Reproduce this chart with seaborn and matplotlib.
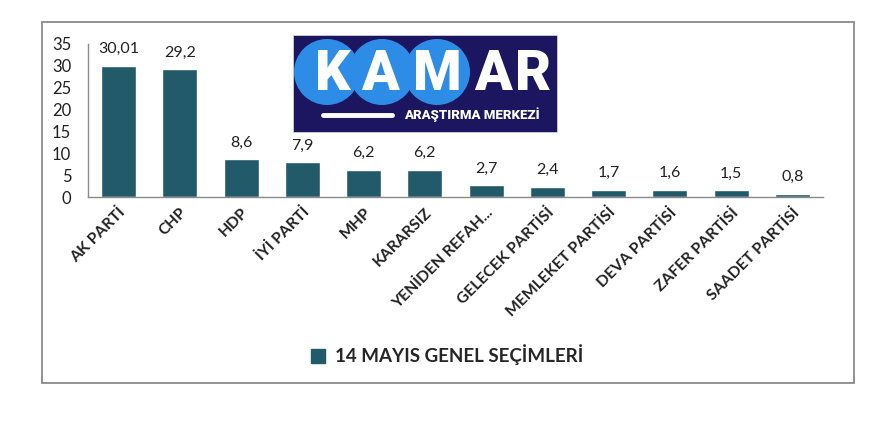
import matplotlib
matplotlib.use("Agg")
import matplotlib.pyplot as plt
import seaborn as sns
import pandas as pd
from matplotlib.patches import Rectangle, Ellipse, Patch

categories = ["AK PARTİ", "CHP", "HDP", "İYİ PARTİ", "MHP", "KARARSIZ",
              "YENİDEN REFAH...", "GELECEK PARTİSİ", "MEMLEKET PARTİSİ",
              "DEVA PARTİSİ", "ZAFER PARTİSİ", "SAADET PARTİSİ"]
values = [30.01, 29.2, 8.6, 7.9, 6.2, 6.2, 2.7, 2.4, 1.7, 1.6, 1.5, 0.8]
value_labels = ["30,01", "29,2", "8,6", "7,9", "6,2", "6,2", "2,7", "2,4",
                "1,7", "1,6", "1,5", "0,8"]
yticks = [0, 5, 10, 15, 20, 25, 30, 35]
series_name = "14 MAYIS GENEL SEÇİMLERİ"

sns.set_theme(style="white")
plt.rcParams['font.family'] = ['Lato', 'DejaVu Sans']

bar_color = "#225A69"
W, H = 877, 422
fig = plt.figure(figsize=(W / 100, H / 100), dpi=100)

# outer frame
fig.patches.append(Rectangle((42 / W, 1 - 383 / H), (854 - 42) / W, (383 - 22) / H,
                             transform=fig.transFigure, fill=False,
                             edgecolor="#8a8a8a", linewidth=1.3))

ax = fig.add_axes([88 / W, 1 - 197 / H, (823 - 88) / W, (197 - 44) / H])
df = pd.DataFrame({"party": categories, "value": values})
sns.barplot(data=df, x="party", y="value", color=bar_color, width=0.57,
            saturation=1, ax=ax)
ax.bar_label(ax.containers[0], labels=value_labels, padding=7,
             fontsize=11.5, color="#222222")
ax.set_ylim(0, 35)
ax.set_yticks(yticks)
ax.set_xlim(-0.5, len(categories) - 0.5)
ax.set_xlabel("")
ax.set_ylabel("")
for s in ["top", "right"]:
    ax.spines[s].set_visible(False)
for s in ["left", "bottom"]:
    ax.spines[s].set_color("#8a8a8a")
    ax.spines[s].set_linewidth(1.0)
ax.tick_params(axis="y", length=0, pad=12, labelsize=12, labelcolor="#222222")
ax.tick_params(axis="x", length=0, pad=6, labelsize=11.3, labelcolor="#222222")
for lab in ax.get_xticklabels():
    lab.set_rotation(45)
    lab.set_ha("right")
    lab.set_rotation_mode("anchor")
    lab.set_fontweight("bold")

# legend
leg = fig.legend(handles=[Patch(facecolor=bar_color, edgecolor=bar_color, label=series_name)],
                 loc="center", bbox_to_anchor=(447 / W, 1 - 355 / H), frameon=False,
                 prop={"weight": "bold", "size": 13.5}, handlelength=0.75,
                 handleheight=0.75, handletextpad=0.5)

# logo
lx0, lx1, ly0, ly1 = 293, 557, 35, 132
fig.patches.append(Rectangle((lx0 / W, 1 - ly1 / H), (lx1 - lx0) / W, (ly1 - ly0) / H,
                             transform=fig.transFigure, facecolor="#1C1560",
                             edgecolor="#dddddd", linewidth=0.5, zorder=5))
lax = fig.add_axes([lx0 / W, 1 - ly1 / H, (lx1 - lx0) / W, (ly1 - ly0) / H], zorder=6)
lax.set_xlim(lx0, lx1)
lax.set_ylim(ly1, ly0)
lax.axis("off")
for cx in [327, 382, 437]:
    lax.add_patch(Ellipse((cx, 72), 66, 66, facecolor="#2C8CE6", edgecolor="none"))
for ch, cx in zip("KAMAR", [333, 380, 437, 493, 533]):
    lax.text(cx, 74, ch, color="white", fontsize=40, fontweight="heavy",
             ha="center", va="center", family=["Roboto", "DejaVu Sans"])
lax.plot([323, 392], [115, 115], color="white", linewidth=3.5, solid_capstyle="round")
lax.text(472, 115, "ARAŞTIRMA MERKEZİ", color="white", fontsize=9.5,
         fontweight="heavy", ha="center", va="center", family=["Roboto", "DejaVu Sans"])

fig.savefig("out.png", dpi=100, facecolor="white")
